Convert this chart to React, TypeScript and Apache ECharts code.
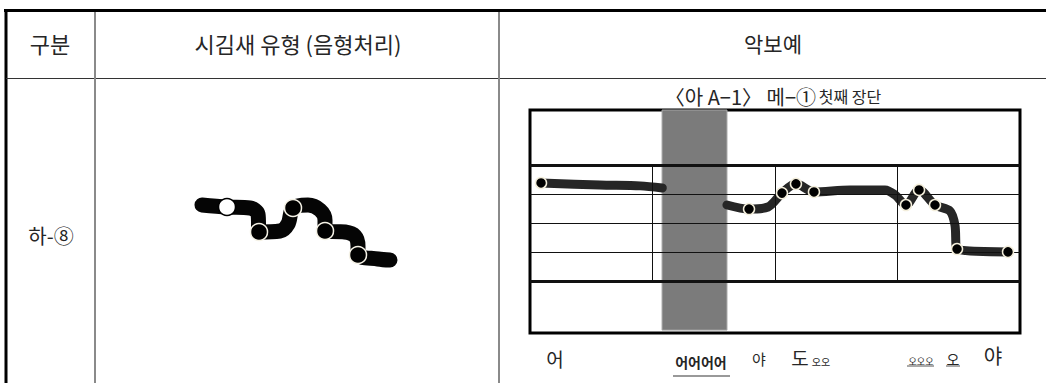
import React, { useEffect, useRef } from "react";
import * as echarts from "echarts";

// ---- data ----
const headerLabels = ["구분", "시김새 유형 (음형처리)", "악보예"];
const rowLabel = "하-⑧";
const scoreTitle = "〈아 A−1〉 메−①";
const scoreSubtitle = "첫째 장단";

// staff (score) coordinate units: line index 0..4, measure columns 0..4
const staffLines = [0, 1, 2, 3, 4];
const thickStaffLines = [0, 4];
const barLines = [1, 2, 3];
const grayBand = [1.078, 1.608];

const melodyA = [
  [0.09, 3.38], [0.57, 3.31], [0.9, 3.28], [1.08, 3.21],
];
const melodyB = [
  [1.608, 2.62], [1.788, 2.48], [1.943, 2.55], [2.057, 3.03], [2.171, 3.35],
  [2.318, 3.07], [2.612, 3.14], [2.898, 3.14], [2.98, 2.97], [3.069, 2.62],
  [3.176, 3.14], [3.306, 2.62], [3.429, 2.41], [3.469, 1.93], [3.486, 1.1],
  [3.902, 1.0],
];
const melodyNotes = [
  [0.09, 3.38], [1.788, 2.48], [2.057, 3.03], [2.171, 3.35], [2.318, 3.07],
  [3.069, 2.62], [3.176, 3.14], [3.306, 2.62], [3.486, 1.1], [3.902, 1.0],
];

// neume figure (local units)
const neumePath = [
  [22, 25], [47, 27], [70, 28], [78, 34], [79, 52], [100, 51], [108, 44],
  [113, 28], [128, 25], [140, 30], [145, 40], [145, 51], [165, 52], [175, 56],
  [178, 66], [178, 75], [198, 79], [210, 80],
];
const neumeHollow = [[47, 27]];
const neumeNotes = [[79, 52], [113, 28], [145, 51], [178, 75]];

const syllables = [
  { t: "어", x: 555, y: 358, s: 19, w: "normal" },
  { t: "어어어어", x: 701, y: 362, s: 14, w: "bold" },
  { t: "야", x: 759, y: 358, s: 15, w: "normal" },
  { t: "도", x: 800, y: 357, s: 19, w: "normal" },
  { t: "오오", x: 821, y: 361, s: 10, w: "normal" },
  { t: "오오오", x: 921, y: 361, s: 9, w: "normal" },
  { t: "오", x: 953, y: 359, s: 14, w: "normal" },
  { t: "야", x: 993, y: 355, s: 20, w: "normal" },
];

const FONT = '"Noto Sans CJK KR", "Noto Sans", sans-serif';

export default function App() {
  const ref = useRef<HTMLDivElement>(null);
  useEffect(() => {
    document.body.style.margin = "0";
    const chart = echarts.init(ref.current!, null, { renderer: "svg" });

    const lineG = (x1: number, y1: number, x2: number, y2: number, stroke: string, w: number) => ({
      type: "line",
      shape: { x1, y1, x2, y2 },
      style: { stroke, lineWidth: w },
      silent: true,
    });
    const textG = (text: string, x: number, y: number, size: number, weight = "normal") => ({
      type: "text",
      x,
      y,
      style: {
        text,
        fontSize: size,
        fontFamily: FONT,
        fontWeight: weight,
        fill: "#262626",
        align: "center",
        verticalAlign: "middle",
      },
      silent: true,
    });

    const staffMark: any[] = staffLines.map((v) => ({
      yAxis: v,
      lineStyle: { width: thickStaffLines.includes(v) ? 3 : 1, color: "#111", type: "solid" },
    }));
    barLines.forEach((b) =>
      staffMark.push([
        { coord: [b, 0], lineStyle: { width: 1, color: "#111", type: "solid" } },
        { coord: [b, 4] },
      ])
    );

    chart.setOption({
      animation: false,
      backgroundColor: "#fff",
      grid: [
        { left: 530, top: 110, width: 490, height: 223, show: true, borderColor: "#000", borderWidth: 3, backgroundColor: "transparent" },
        { left: 180, top: 180, width: 230, height: 100, show: false },
      ],
      xAxis: [
        { gridIndex: 0, type: "value", min: 0, max: 4, show: false },
        { gridIndex: 1, type: "value", min: 0, max: 230, show: false },
      ],
      yAxis: [
        { gridIndex: 0, type: "value", min: -1.8, max: 5.9, show: false },
        { gridIndex: 1, type: "value", min: 0, max: 100, inverse: true, show: false },
      ],
      series: [
        {
          type: "line",
          xAxisIndex: 0,
          yAxisIndex: 0,
          data: [],
          z: 1,
          silent: true,
          markLine: { symbol: ["none", "none"], silent: true, label: { show: false }, data: staffMark },
        },
        {
          type: "line",
          xAxisIndex: 0,
          yAxisIndex: 0,
          data: melodyA,
          smooth: 0.3,
          showSymbol: false,
          z: 4,
          lineStyle: { width: 9, color: "#262626", cap: "round", join: "round" },
        },
        {
          type: "line",
          xAxisIndex: 0,
          yAxisIndex: 0,
          data: melodyB,
          smooth: 0.3,
          showSymbol: false,
          z: 4,
          lineStyle: { width: 9, color: "#262626", cap: "round", join: "round" },
        },
        {
          type: "scatter",
          xAxisIndex: 0,
          yAxisIndex: 0,
          data: melodyNotes,
          symbolSize: 11,
          z: 5,
          itemStyle: { color: "#000", borderColor: "#f3eedb", borderWidth: 1.5, opacity: 1 },
        },
        {
          type: "line",
          xAxisIndex: 0,
          yAxisIndex: 0,
          data: [],
          z: 8,
          silent: true,
          markArea: {
            silent: true,
            itemStyle: { color: "#7b7b7b", borderColor: "#a6a6a6", borderWidth: 1, opacity: 1 },
            data: [[{ xAxis: grayBand[0], yAxis: 5.9 }, { xAxis: grayBand[1], yAxis: -1.7 }]],
          },
        },
        {
          type: "line",
          xAxisIndex: 1,
          yAxisIndex: 1,
          data: neumePath,
          smooth: 0.35,
          showSymbol: false,
          z: 4,
          lineStyle: { width: 15, color: "#050505", cap: "round", join: "round" },
        },
        {
          type: "scatter",
          xAxisIndex: 1,
          yAxisIndex: 1,
          data: neumeHollow,
          symbolSize: 17,
          z: 5,
          itemStyle: { color: "#fff", borderColor: "#000", borderWidth: 1.5, opacity: 1 },
        },
        {
          type: "scatter",
          xAxisIndex: 1,
          yAxisIndex: 1,
          data: neumeNotes,
          symbolSize: 17,
          z: 5,
          itemStyle: { color: "#000", borderColor: "#f5f2e6", borderWidth: 1.5, opacity: 1 },
        },
      ],
      graphic: [
        lineG(4, 10.5, 1046, 10.5, "#000", 3),
        lineG(6, 9, 6, 383, "#000", 3),
        lineG(6, 78.5, 1046, 78.5, "#333", 1.2),
        lineG(95, 12, 95, 383, "#8a8a8a", 2),
        lineG(499, 12, 499, 383, "#8a8a8a", 2),
        textG(headerLabels[0], 50, 43, 22),
        textG(headerLabels[1], 298, 43, 22),
        textG(headerLabels[2], 773, 43, 21),
        textG(rowLabel, 51, 235, 20),
        {
          type: "text",
          x: 773,
          y: 96,
          silent: true,
          style: {
            text: "{a|" + scoreTitle + "} {b|" + scoreSubtitle + "}",
            align: "center",
            verticalAlign: "middle",
            fontFamily: FONT,
            fill: "#262626",
            rich: {
              a: { fontSize: 20, fontFamily: FONT, fill: "#262626" },
              b: { fontSize: 16, fontFamily: FONT, fill: "#262626" },
            },
          },
        },
        ...syllables.map((s) => textG(s.t, s.x, s.y, s.s, s.w)),
        lineG(673, 376, 730, 376, "#777", 1.5),
        lineG(907, 366, 934, 366, "#555", 1),
        lineG(946, 366, 960, 366, "#555", 1),
      ],
    });
    return () => chart.dispose();
  }, []);
  return <div ref={ref} style={{ width: 1046, height: 383, background: "#fff" }} />;
}
